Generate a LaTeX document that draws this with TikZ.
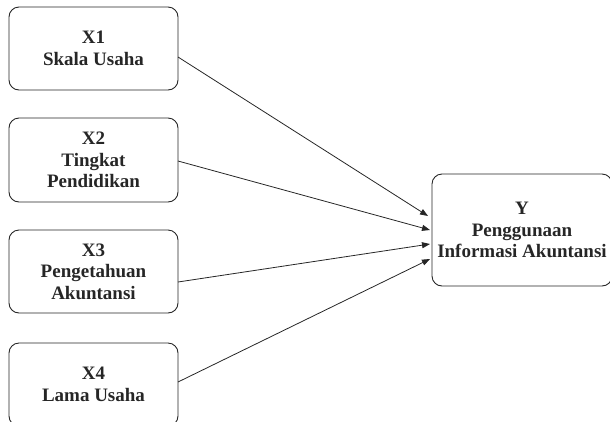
\documentclass[tikz,border=0pt]{standalone}
\usepackage{fontspec}
\setmainfont{Liberation Serif}
\usetikzlibrary{arrows.meta}
\begin{document}
\begin{tikzpicture}[x=1pt,y=-1pt,
  box/.style={draw=black!85,line width=0.9pt,rounded corners=10pt,align=center,
    font=\fontsize{19}{21.5}\selectfont\bfseries,text=black!85,inner sep=0pt},
  link/.style={draw=black!85,line width=0.8pt,-{Triangle[length=8pt,width=6pt]}}]
\useasboundingbox (0,0) rectangle (610,421);
\begin{scope}
\clip (0,0) rectangle (610,421);
\node[box,minimum width=169pt,minimum height=83pt] (x1) at (93.5,48.5) {X1\\Skala Usaha};
\node[box,minimum width=169pt,minimum height=84pt] (x2) at (93.5,160) {X2\\Tingkat\\Pendidikan};
\node[box,minimum width=169pt,minimum height=83pt] (x3) at (93.5,271.5) {X3\\Pengetahuan\\Akuntansi};
\node[box,minimum width=169pt,minimum height=83pt] (x4) at (93.5,384.5) {X4\\Lama Usaha};
\node[box,minimum width=180pt,minimum height=112pt] (y) at (522,230) {Y\\Penggunaan\\Informasi Akuntansi};
\coordinate (s1) at (178,57);
\coordinate (s2) at (178,161);
\coordinate (s3) at (178,282);
\coordinate (s4) at (178,382);
\coordinate (t1) at (428,216);
\coordinate (t2) at (430,230);
\coordinate (t3) at (430,244);
\coordinate (t4) at (430,259);
\draw[link] (s1) -- (t1);
\draw[link] (s2) -- (t2);
\draw[link] (s3) -- (t3);
\draw[link] (s4) -- (t4);
\end{scope}
\end{tikzpicture}
\end{document}
